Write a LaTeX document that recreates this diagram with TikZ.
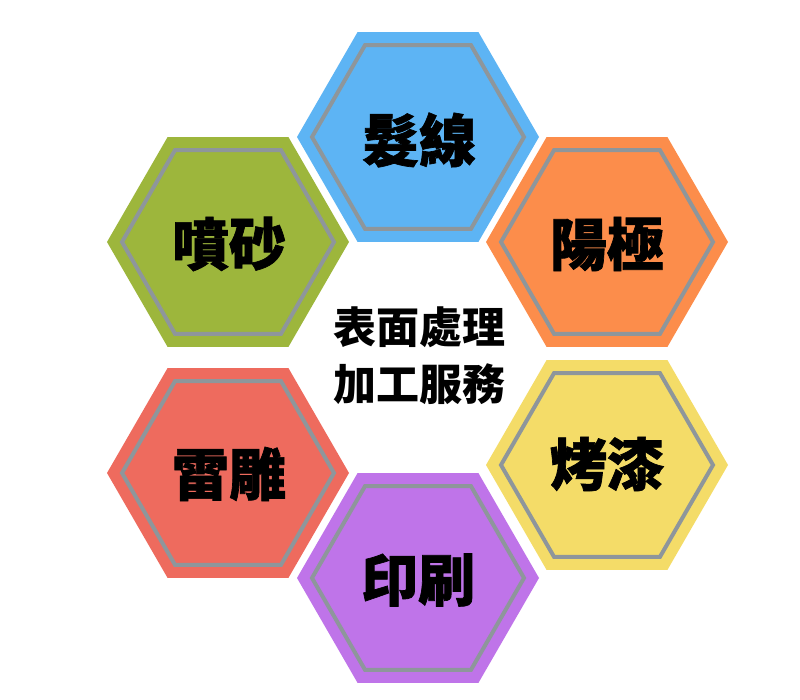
\documentclass[tikz,border=0pt]{standalone}
\usepackage{fontspec}
\newfontfamily\cjk{Noto Sans CJK TC}
\newfontfamily\cjkheavy[BoldFeatures={FakeBold=1.2}]{Noto Sans CJK TC}
\definecolor{hexblue}{HTML}{5DB4F4}
\definecolor{hexgreen}{HTML}{9DB63C}
\definecolor{hexorange}{HTML}{FC8D4B}
\definecolor{hexred}{HTML}{EE6B5E}
\definecolor{hexyellow}{HTML}{F4DC68}
\definecolor{hexpurple}{HTML}{BF74E9}
\definecolor{hexgray}{HTML}{8E969B}
\tikzset{
  pics/hexagon/.style={code={
    \fill[#1] (0:121) -- (60:121) -- (120:121) -- (180:121) -- (240:121) -- (300:121) -- cycle;
    \draw[hexgray, line width=4pt, line join=miter] (0:106) -- (60:106) -- (120:106) -- (180:106) -- (240:106) -- (300:106) -- cycle;
  }},
  lab/.style={font=\cjkheavy\bfseries\fontsize{57}{60}\selectfont, text=black, inner sep=0pt},
  centre/.style={font=\cjk\bfseries\fontsize{43}{57}\selectfont, text=black, align=center, inner sep=0pt}
}
\begin{document}
\begin{tikzpicture}[x=1pt,y=1pt]
\useasboundingbox (0,0) rectangle (800,700);
\fill[white] (0,0) rectangle (800,700);
\pic at (418,563) {hexagon=hexblue};
\pic at (228,458) {hexagon=hexgreen};
\pic at (607,458) {hexagon=hexorange};
\pic at (228,227) {hexagon=hexred};
\pic at (607,235) {hexagon=hexyellow};
\pic at (418,122) {hexagon=hexpurple};
\node[lab] (a) at (419,560) {髮線};
\node[lab] (b) at (229,456) {噴砂};
\node[lab] (c) at (607,456) {陽極};
\node[lab] (d) at (229,226) {雷雕};
\node[lab] (e) at (607,236) {烤漆};
\node[lab] (f) at (418,120) {印刷};
\node[centre] (g) at (419,344) {表面處理\\加工服務};
\end{tikzpicture}
\end{document}
